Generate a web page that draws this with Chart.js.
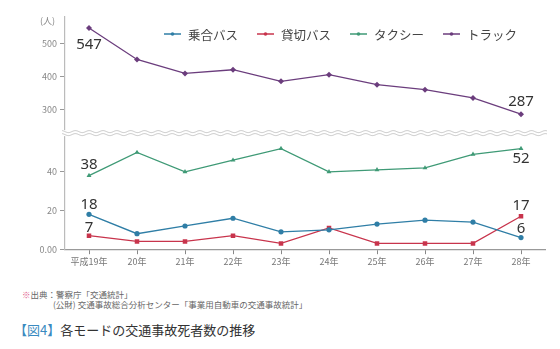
<!DOCTYPE html>
<html>
<head>
<meta charset="utf-8">
<script src="https://cdn.jsdelivr.net/npm/chart.js@4"></script>
<style>
  body { margin: 0; background: #fff; font-family: "Noto Sans CJK JP", sans-serif; }
  #wrap { position: relative; width: 560px; height: 349px; }
  #box { position: absolute; left: 0; top: 0; width: 560px; height: 269px; }
  .note { position: absolute; font-size: 8.5px; color: #666; white-space: nowrap; }
  .note .mark { color: #e0608a; }
  #title { position: absolute; left: 14px; top: 320px; font-size: 13px; color: #333; white-space: nowrap; }
  #title .fig { color: #3a8ac0; }
</style>
</head>
<body>
<div id="wrap">
  <div id="box"><canvas id="myChart"></canvas></div>
  <div class="note" style="left:22px; top:288px;"><span class="mark">※</span>出典：警察庁「交通統計」</div>
  <div class="note" style="left:53px; top:298px;">(公財) 交通事故総合分析センター「事業用自動車の交通事故統計」</div>
  <div id="title"><span class="fig">【図4】</span>各モードの交通事故死者数の推移</div>
</div>
<script>
const years = ["平成19年", "20年", "21年", "22年", "23年", "24年", "25年", "26年", "27年", "28年"];

const noriaiBus = [18, 8, 12, 16, 9, 10, 13, 15, 14, 6];
const kashikiriBus = [7, 4, 4, 7, 3, 11, 3, 3, 3, 17];
const taxi = [38, 50, 40, 46, 52, 40, 41, 42, 49, 52];
const truck = [547, 452, 410, 421, 386, 406, 376, 361, 336, 287];

const topTicks = [300, 400, 500];
const bottomTicks = [0, 20, 40];

// which points get a number printed, and where
const labelSpots = [
  { ds: 3, i: 0, dy: 17 },
  { ds: 3, i: 9, dy: -12 },
  { ds: 2, i: 0, dy: -11 },
  { ds: 2, i: 9, dy: 10 },
  { ds: 0, i: 0, dy: -10 },
  { ds: 1, i: 0, dy: -8 },
  { ds: 1, i: 9, dy: -11 },
  { ds: 0, i: 9, dy: -9 },
];

const tickFont = { family: "'Noto Sans CJK JP', sans-serif", size: 9 };

const extras = {
  id: "extras",
  afterDraw(chart) {
    const ctx = chart.ctx;
    const area = chart.chartArea;
    const yTop = chart.scales.yTop;

    // axis break: double wavy line
    const yb = yTop.bottom;
    ctx.save();
    ctx.fillStyle = "#fff";
    ctx.fillRect(area.left - 3, yb - 3, area.right - area.left + 6, 6);
    ctx.strokeStyle = "#b8b8b8";
    ctx.lineWidth = 0.8;
    [yb - 1.5, yb + 1.5].forEach((yy) => {
      ctx.beginPath();
      for (let x = area.left - 3; x <= area.right + 2; x += 0.5) {
        const y = yy + Math.sin((x - area.left) / 2.2) * 1;
        if (x === area.left - 3) ctx.moveTo(x, y);
        else ctx.lineTo(x, y);
      }
      ctx.stroke();
    });

    // unit
    ctx.fillStyle = "#888";
    ctx.font = "9px 'Noto Sans CJK JP'";
    ctx.textAlign = "right";
    ctx.textBaseline = "middle";
    ctx.fillText("(人)", area.left - 10, area.top + 4);

    // value labels
    ctx.fillStyle = "#333";
    ctx.font = "15px 'Noto Sans', sans-serif";
    ctx.textAlign = "center";
    labelSpots.forEach((s) => {
      const pt = chart.getDatasetMeta(s.ds).data[s.i];
      const v = chart.data.datasets[s.ds].data[s.i];
      ctx.fillText(String(v), pt.x, pt.y + s.dy);
    });

    // legend
    ctx.font = "12.5px 'Noto Sans CJK JP'";
    ctx.textAlign = "left";
    let x = 164;
    const y = 34;
    chart.data.datasets.forEach((d) => {
      ctx.strokeStyle = d.borderColor;
      ctx.lineWidth = 1.5;
      ctx.beginPath();
      ctx.moveTo(x, y);
      ctx.lineTo(x + 17, y);
      ctx.stroke();
      ctx.fillStyle = d.borderColor;
      ctx.beginPath();
      ctx.arc(x + 8.5, y, 1.8, 0, Math.PI * 2);
      ctx.fill();
      ctx.fillStyle = "#444";
      ctx.fillText(d.label, x + 24, y + 1);
      x += 24 + ctx.measureText(d.label).width + 19;
    });
    ctx.restore();
  },
};

const yCommon = {
  type: "linear",
  position: "left",
  stack: "s",
  stackWeight: 1,
  border: { color: "#bbb", width: 1.2 },
  grid: { drawOnChartArea: false, tickLength: 5, color: "#999" },
  ticks: { color: "#888", font: tickFont, padding: 3 },
  afterFit: (axis) => { axis.width = 65; },
};

new Chart(document.getElementById("myChart"), {
  type: "line",
  data: {
    labels: years,
    datasets: [
      { label: "乗合バス", data: noriaiBus, yAxisID: "yBot", borderColor: "#2f7ea6", backgroundColor: "#2f7ea6", pointStyle: "circle", pointRadius: 2.6 },
      { label: "貸切バス", data: kashikiriBus, yAxisID: "yBot", borderColor: "#c8344c", backgroundColor: "#c8344c", pointStyle: "rect", pointRadius: 3.2 },
      { label: "タクシー", data: taxi, yAxisID: "yBot", borderColor: "#3f9a76", backgroundColor: "#3f9a76", pointStyle: "triangle", pointRadius: 2.8 },
      { label: "トラック", data: truck, yAxisID: "yTop", borderColor: "#6b3d7d", backgroundColor: "#6b3d7d", pointStyle: "rectRot", pointRadius: 3 },
    ],
  },
  options: {
    responsive: true,
    maintainAspectRatio: false,
    animation: false,
    layout: { padding: { top: 17, right: 15, left: 0, bottom: 0 } },
    elements: { line: { borderWidth: 1.3, tension: 0 }, point: { borderWidth: 0 } },
    plugins: { legend: { display: false }, tooltip: { enabled: false } },
    scales: {
      x: {
        type: "category",
        offset: true,
        border: { color: "#999", width: 1.2 },
        grid: { drawOnChartArea: false, offset: false, tickLength: 5, color: "#888" },
        ticks: { color: "#777", font: tickFont, padding: 2 },
      },
      yBot: {
        ...yCommon,
        min: 0,
        max: 60,
        afterBuildTicks: (axis) => { axis.ticks = bottomTicks.map((v) => ({ value: v })); },
        ticks: { ...yCommon.ticks, callback: (v) => (v === 0 ? "0.00" : v) },
      },
      yTop: {
        ...yCommon,
        min: 230,
        max: 580,
        afterBuildTicks: (axis) => { axis.ticks = topTicks.map((v) => ({ value: v })); },
      },
    },
  },
  plugins: [extras],
});
</script>
</body>
</html>
